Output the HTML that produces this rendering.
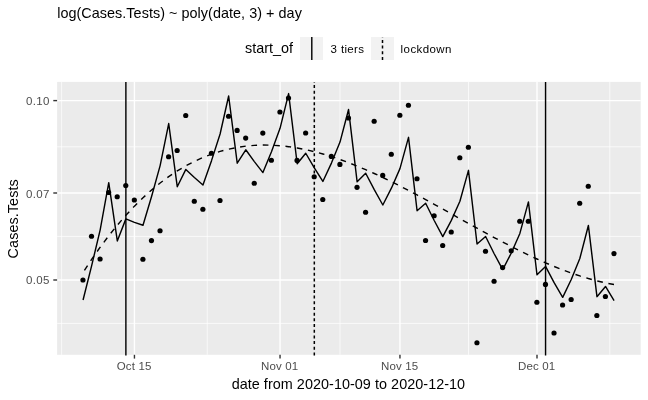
<!DOCTYPE html>
<html><head><meta charset="utf-8"><title>plot</title>
<style>
html,body{margin:0;padding:0;background:#fff;}
svg{display:block;font-family:"Liberation Sans",Arial,Helvetica,sans-serif;}
.ax{font-size:11.5px;fill:#4d4d4d;}
.t{font-size:14.4px;fill:#000;}
.lg{font-size:11.5px;fill:#000;}
</style></head><body>
<svg width="648" height="400" viewBox="0 0 648 400">
<rect width="648" height="400" fill="#fff"/>
<text x="57.2" y="18.3" class="t" letter-spacing="0.04">log(Cases.Tests) ~ poly(date, 3) + day</text>
<text x="245" y="53.2" class="t">start_of</text>
<rect x="300" y="37" width="23" height="23" fill="#f2f2f2"/>
<line x1="311.8" x2="311.8" y1="37" y2="60" stroke="#000" stroke-width="1.42"/>
<text x="330.6" y="52.6" class="lg" letter-spacing="0.35">3 tiers</text>
<rect x="371" y="37" width="23" height="23" fill="#f2f2f2"/>
<line x1="382.5" x2="382.5" y1="60" y2="37" stroke="#000" stroke-width="1.5" stroke-dasharray="3 2.69"/>
<text x="400.6" y="52.6" class="lg" letter-spacing="0.42">lockdown</text>
<rect x="57.1" y="81.9" width="583.6" height="272.9" fill="#ebebeb"/>
<line x1="57.1" x2="640.7" y1="146.8" y2="146.8" stroke="#fff" stroke-width="0.7"/><line x1="57.1" x2="640.7" y1="236.4" y2="236.4" stroke="#fff" stroke-width="0.7"/><line x1="57.1" x2="640.7" y1="323.4" y2="323.4" stroke="#fff" stroke-width="0.7"/><line y1="81.9" y2="354.8" x1="61.64" x2="61.64" stroke="#fff" stroke-width="0.7"/><line y1="81.9" y2="354.8" x1="207.24" x2="207.24" stroke="#fff" stroke-width="0.7"/><line y1="81.9" y2="354.8" x1="340.00" x2="340.00" stroke="#fff" stroke-width="0.7"/><line y1="81.9" y2="354.8" x1="468.47" x2="468.47" stroke="#fff" stroke-width="0.7"/><line y1="81.9" y2="354.8" x1="609.80" x2="609.80" stroke="#fff" stroke-width="0.7"/><line x1="57.1" x2="640.7" y1="100.6" y2="100.6" stroke="#fff" stroke-width="1.4"/><line x1="57.1" x2="640.7" y1="193.0" y2="193.0" stroke="#fff" stroke-width="1.4"/><line x1="57.1" x2="640.7" y1="280.0" y2="280.0" stroke="#fff" stroke-width="1.4"/><line y1="81.9" y2="354.8" x1="134.44" x2="134.44" stroke="#fff" stroke-width="1.4"/><line y1="81.9" y2="354.8" x1="280.04" x2="280.04" stroke="#fff" stroke-width="1.4"/><line y1="81.9" y2="354.8" x1="399.95" x2="399.95" stroke="#fff" stroke-width="1.4"/><line y1="81.9" y2="354.8" x1="537.00" x2="537.00" stroke="#fff" stroke-width="1.4"/>
<g fill="#000"><circle cx="82.95" cy="280.00" r="2.6"/><circle cx="91.52" cy="236.25" r="2.6"/><circle cx="100.08" cy="259.00" r="2.6"/><circle cx="108.65" cy="192.50" r="2.6"/><circle cx="117.21" cy="196.75" r="2.6"/><circle cx="125.78" cy="185.50" r="2.6"/><circle cx="134.34" cy="200.00" r="2.6"/><circle cx="142.91" cy="259.25" r="2.6"/><circle cx="151.47" cy="240.60" r="2.6"/><circle cx="160.03" cy="230.75" r="2.6"/><circle cx="168.60" cy="156.75" r="2.6"/><circle cx="177.16" cy="150.50" r="2.6"/><circle cx="185.73" cy="115.50" r="2.6"/><circle cx="194.29" cy="201.25" r="2.6"/><circle cx="202.86" cy="209.25" r="2.6"/><circle cx="211.42" cy="153.25" r="2.6"/><circle cx="219.99" cy="200.50" r="2.6"/><circle cx="228.55" cy="116.25" r="2.6"/><circle cx="237.12" cy="130.40" r="2.6"/><circle cx="245.68" cy="138.10" r="2.6"/><circle cx="254.25" cy="183.25" r="2.6"/><circle cx="262.81" cy="133.10" r="2.6"/><circle cx="271.38" cy="160.25" r="2.6"/><circle cx="279.94" cy="112.00" r="2.6"/><circle cx="288.51" cy="98.00" r="2.6"/><circle cx="297.07" cy="160.40" r="2.6"/><circle cx="305.64" cy="133.00" r="2.6"/><circle cx="314.20" cy="176.75" r="2.6"/><circle cx="322.77" cy="199.50" r="2.6"/><circle cx="331.33" cy="156.40" r="2.6"/><circle cx="339.90" cy="164.40" r="2.6"/><circle cx="348.46" cy="118.00" r="2.6"/><circle cx="357.03" cy="187.30" r="2.6"/><circle cx="365.59" cy="212.25" r="2.6"/><circle cx="374.16" cy="121.25" r="2.6"/><circle cx="382.72" cy="175.40" r="2.6"/><circle cx="391.29" cy="154.25" r="2.6"/><circle cx="399.85" cy="115.25" r="2.6"/><circle cx="408.42" cy="105.25" r="2.6"/><circle cx="416.98" cy="178.75" r="2.6"/><circle cx="425.55" cy="240.50" r="2.6"/><circle cx="434.11" cy="215.75" r="2.6"/><circle cx="442.68" cy="245.50" r="2.6"/><circle cx="451.24" cy="232.00" r="2.6"/><circle cx="459.81" cy="157.75" r="2.6"/><circle cx="468.37" cy="147.25" r="2.6"/><circle cx="476.94" cy="342.75" r="2.6"/><circle cx="485.50" cy="251.25" r="2.6"/><circle cx="494.07" cy="281.25" r="2.6"/><circle cx="502.63" cy="267.50" r="2.6"/><circle cx="511.20" cy="250.75" r="2.6"/><circle cx="519.76" cy="221.25" r="2.6"/><circle cx="528.33" cy="221.25" r="2.6"/><circle cx="536.89" cy="302.25" r="2.6"/><circle cx="545.46" cy="284.40" r="2.6"/><circle cx="554.02" cy="333.00" r="2.6"/><circle cx="562.59" cy="305.00" r="2.6"/><circle cx="571.15" cy="299.50" r="2.6"/><circle cx="579.72" cy="203.25" r="2.6"/><circle cx="588.28" cy="186.25" r="2.6"/><circle cx="596.85" cy="315.50" r="2.6"/><circle cx="605.41" cy="296.50" r="2.6"/><circle cx="613.98" cy="253.60" r="2.6"/></g>
<polyline points="83.05,299.97 91.61,265.93 100.18,229.81 108.75,182.69 117.31,240.95 125.88,218.87 134.44,222.33 143.00,225.22 151.57,196.51 160.13,165.58 168.70,123.53 177.26,186.71 185.83,169.43 194.39,177.55 202.96,184.96 211.52,160.64 220.09,133.97 228.65,96.03 237.22,163.20 245.78,149.76 254.35,161.59 262.91,172.58 271.48,151.70 280.04,128.34 288.61,93.57 297.18,163.78 305.74,153.24 314.31,167.85 322.87,181.47 331.44,163.09 340.00,142.09 348.56,109.55 357.13,181.85 365.69,173.27 374.26,189.70 382.82,205.01 391.39,188.18 399.95,168.60 408.52,137.34 417.08,210.79 425.65,203.22 434.21,220.53 442.78,236.58 451.34,220.36 459.91,201.25 468.47,170.33 477.04,243.98 485.60,236.48 494.17,253.72 502.74,269.57 511.30,253.01 519.87,233.43 528.43,201.90 537.00,274.81 545.56,266.44 554.12,282.66 562.69,297.37 571.25,279.53 579.82,258.53 588.38,225.45 596.95,296.67 605.51,286.48 614.08,300.74" fill="none" stroke="#000" stroke-width="1.42" stroke-linejoin="round"/>
<polyline points="83.05,272.47 91.61,259.43 100.18,247.21 108.75,235.79 117.31,225.15 125.88,215.27 134.44,206.13 143.00,197.72 151.57,190.01 160.13,182.98 168.70,176.63 177.26,170.91 185.83,165.83 194.39,161.35 202.96,157.46 211.52,154.14 220.09,151.37 228.65,149.13 237.22,147.40 245.78,146.16 254.35,145.39 262.91,145.08 271.48,145.20 280.04,145.74 288.61,146.67 297.18,147.98 305.74,149.64 314.31,151.65 322.87,153.97 331.44,156.59 340.00,159.49 348.56,162.65 357.13,166.05 365.69,169.67 374.26,173.50 382.82,177.51 391.39,181.68 399.95,186.00 408.52,190.44 417.08,194.99 425.65,199.62 434.21,204.33 442.78,209.08 451.34,213.86 459.91,218.65 468.47,223.43 477.04,228.18 485.60,232.88 494.17,237.52 502.74,242.07 511.30,246.51 519.87,250.83 528.43,255.00 537.00,259.01 545.56,262.84 554.12,266.46 562.69,269.87 571.25,273.03 579.82,275.93 588.38,278.55 596.95,280.87 605.51,282.88 614.08,284.54" fill="none" stroke="#000" stroke-width="1.42" stroke-dasharray="5.69 5.69" stroke-dashoffset="-2.5"/>
<line x1="125.88" x2="125.88" y1="81.9" y2="355.40000000000003" stroke="#000" stroke-width="1.42"/>
<line x1="545.56" x2="545.56" y1="81.9" y2="355.40000000000003" stroke="#000" stroke-width="1.42"/>
<line x1="314.31" x2="314.31" y1="355.5" y2="81.9" stroke="#000" stroke-width="1.5" stroke-dasharray="3 2.69"/>
<line x1="53.300000000000004" x2="57.1" y1="100.6" y2="100.6" stroke="#333" stroke-width="1.4"/><text x="49.7" y="104.8" text-anchor="end" class="ax" letter-spacing="0.33">0.10</text><line x1="53.300000000000004" x2="57.1" y1="193.0" y2="193.0" stroke="#333" stroke-width="1.4"/><text x="49.7" y="197.8" text-anchor="end" class="ax" letter-spacing="0.33">0.07</text><line x1="53.300000000000004" x2="57.1" y1="280.0" y2="280.0" stroke="#333" stroke-width="1.4"/><text x="49.7" y="283.8" text-anchor="end" class="ax" letter-spacing="0.33">0.05</text><line y1="354.8" y2="358.6" x1="134.44" x2="134.44" stroke="#333" stroke-width="1.4"/><text x="134.14" y="370.2" text-anchor="middle" class="ax" letter-spacing="0.15">Oct 15</text><line y1="354.8" y2="358.6" x1="280.04" x2="280.04" stroke="#333" stroke-width="1.4"/><text x="279.74" y="370.2" text-anchor="middle" class="ax" letter-spacing="0.15">Nov 01</text><line y1="354.8" y2="358.6" x1="399.95" x2="399.95" stroke="#333" stroke-width="1.4"/><text x="399.65" y="370.2" text-anchor="middle" class="ax" letter-spacing="0.15">Nov 15</text><line y1="354.8" y2="358.6" x1="537.00" x2="537.00" stroke="#333" stroke-width="1.4"/><text x="536.70" y="370.2" text-anchor="middle" class="ax" letter-spacing="0.15">Dec 01</text>
<text x="348.4" y="388.7" text-anchor="middle" class="t" letter-spacing="0.045">date from 2020-10-09 to 2020-12-10</text>
<text transform="translate(18,218.8) rotate(-90)" text-anchor="middle" class="t" letter-spacing="0.07">Cases.Tests</text>
</svg>
</body></html>
